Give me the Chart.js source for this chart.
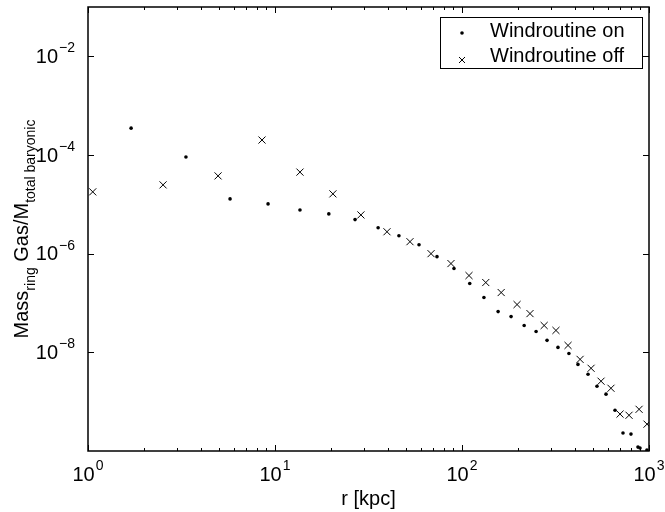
<!DOCTYPE html>
<html>
<head>
<meta charset="utf-8">
<script src="https://cdn.jsdelivr.net/npm/chart.js@4/dist/chart.umd.min.js"></script>
<style>
  html, body { margin: 0; padding: 0; background: #fff; }
  #wrap { width: 665px; height: 512px; position: relative; }
</style>
</head>
<body>
<div id="wrap"><canvas id="massChart"></canvas></div>
<script>
// radius [kpc] and mass fraction, wind routine on
const rOn = [1.70, 3.34, 5.75, 9.18, 13.6, 19.4, 26.8, 35.6, 46.0, 58.9, 73.5, 90.6, 110, 131, 156, 183, 215, 249, 285, 326, 373, 417, 472, 527, 589, 658, 726, 801, 873, 895, 975];
const massOn = [3.5e-4, 9.1e-5, 1.29e-5, 1.02e-5, 7.7e-6, 6.4e-6, 4.9e-6, 3.35e-6, 2.31e-6, 1.52e-6, 8.7e-7, 5.0e-7, 2.48e-7, 1.29e-7, 6.7e-8, 5.3e-8, 3.5e-8, 2.65e-8, 1.75e-8, 1.26e-8, 9.5e-9, 5.7e-9, 3.6e-9, 2.06e-9, 1.42e-9, 6.7e-10, 2.31e-10, 2.2e-10, 1.2e-10, 1.15e-10, 1.05e-10];

// wind routine off
const rOff = [1.06, 2.52, 4.96, 8.52, 13.6, 20.4, 28.8, 39.7, 52.7, 68.3, 87.3, 109, 134, 162, 197, 231, 275, 318, 369, 428, 490, 554, 626, 700, 782, 885, 976];
const massOff = [1.79e-5, 2.48e-5, 3.77e-5, 2.01e-4, 4.5e-5, 1.63e-5, 6.1e-6, 2.78e-6, 1.75e-6, 1.0e-6, 6.3e-7, 3.6e-7, 2.6e-7, 1.63e-7, 9.3e-8, 6.1e-8, 3.5e-8, 2.78e-8, 1.38e-8, 7.2e-9, 4.75e-9, 2.6e-9, 1.87e-9, 5.6e-10, 5.3e-10, 7.0e-10, 3.5e-10];

const xTicks = [1, 10, 100, 1000];
const yTicks = [1e-8, 1e-6, 1e-4, 1e-2];
const legendLabels = ['Windroutine on', 'Windroutine off'];

const FONT = '"Liberation Sans", Arial, sans-serif';
const BIG = '20px ' + FONT;
const SMALL = '14px ' + FONT;

function toPoints(xs, ys) {
    return xs.map((x, i) => ({ x: x, y: ys[i] }));
}

// "10" with a raised exponent
function powWidth(ctx, exp) {
    ctx.font = BIG;
    const w1 = ctx.measureText('10').width;
    ctx.font = SMALL;
    return w1 + 1 + ctx.measureText(exp).width;
}
function drawPow(ctx, exp, x, y) {
    ctx.textBaseline = 'middle';
    ctx.textAlign = 'left';
    ctx.font = BIG;
    ctx.fillText('10', x, y);
    const w1 = ctx.measureText('10').width;
    ctx.font = SMALL;
    ctx.fillText(exp, x + w1 + 1, y - 9);
}

const axesPlugin = {
    id: 'matlabAxes',
    afterDraw(chart) {
        const ctx = chart.ctx;
        const a = chart.chartArea;
        const xs = chart.scales.x;
        const ys = chart.scales.y;
        ctx.save();
        ctx.strokeStyle = '#000';
        ctx.fillStyle = '#000';

        // frame
        ctx.lineWidth = 1.5;
        ctx.strokeRect(a.left, a.top, a.right - a.left, a.bottom - a.top);

        // x ticks (major + log minors), inside on bottom and top
        ctx.lineWidth = 1;
        ctx.beginPath();
        for (let d = 0; d < xTicks.length; d++) {
            for (let m = 1; m <= 9; m++) {
                const v = xTicks[d] * m;
                if (v > xTicks[xTicks.length - 1]) break;
                const px = Math.round(xs.getPixelForValue(v)) + 0.5;
                const len = m === 1 ? 6 : 3;
                ctx.moveTo(px, a.bottom);
                ctx.lineTo(px, a.bottom - len);
                ctx.moveTo(px, a.top);
                ctx.lineTo(px, a.top + len);
            }
        }
        // y ticks, left and right
        yTicks.forEach(v => {
            const py = Math.round(ys.getPixelForValue(v)) + 0.5;
            ctx.moveTo(a.left, py);
            ctx.lineTo(a.left + 6, py);
            ctx.moveTo(a.right, py);
            ctx.lineTo(a.right - 6, py);
        });
        ctx.stroke();

        // tick labels
        xTicks.forEach(v => {
            const exp = String(Math.round(Math.log10(v)));
            const w = powWidth(ctx, exp);
            drawPow(ctx, exp, xs.getPixelForValue(v) - w / 2, a.bottom + 24);
        });
        yTicks.forEach(v => {
            const exp = '\u2212' + String(-Math.round(Math.log10(v)));
            const w = powWidth(ctx, exp);
            drawPow(ctx, exp, a.left - 13 - w, ys.getPixelForValue(v) + 1);
        });

        // x title
        ctx.font = BIG;
        ctx.textAlign = 'center';
        ctx.textBaseline = 'middle';
        ctx.fillText('r [kpc]', (a.left + a.right) / 2, 499);

        // y title with subscripts
        const parts = [
            { t: 'Mass', sub: false },
            { t: 'ring', sub: true },
            { t: ' Gas/M', sub: false },
            { t: 'total baryonic', sub: true }
        ];
        let total = 0;
        parts.forEach(p => {
            ctx.font = p.sub ? SMALL : BIG;
            p.w = ctx.measureText(p.t).width;
            total += p.w;
        });
        ctx.save();
        ctx.translate(28, (a.top + a.bottom) / 2);
        ctx.rotate(-Math.PI / 2);
        ctx.textAlign = 'left';
        ctx.textBaseline = 'alphabetic';
        let cx = -total / 2;
        parts.forEach(p => {
            ctx.font = p.sub ? SMALL : BIG;
            ctx.fillText(p.t, cx, p.sub ? 7 : 0);
            cx += p.w;
        });
        ctx.restore();

        // legend box
        const lx = 440, ly = 17, lw = 202, lh = 51;
        ctx.fillStyle = '#fff';
        ctx.fillRect(lx, ly, lw, lh);
        ctx.lineWidth = 1;
        ctx.strokeStyle = '#000';
        ctx.strokeRect(lx + 0.5, ly + 0.5, lw, lh);
        ctx.fillStyle = '#000';
        ctx.font = BIG;
        ctx.textAlign = 'left';
        ctx.textBaseline = 'middle';
        ctx.fillText(legendLabels[0], 490, 31);
        ctx.fillText(legendLabels[1], 490, 56);
        ctx.beginPath();
        ctx.arc(462, 33, 1.8, 0, Math.PI * 2);
        ctx.fill();
        ctx.beginPath();
        ctx.moveTo(459, 57); ctx.lineTo(465, 63);
        ctx.moveTo(465, 57); ctx.lineTo(459, 63);
        ctx.stroke();

        ctx.restore();
    }
};

const ctx = document.getElementById('massChart').getContext('2d');
const massChart = new Chart(ctx, {
    type: 'scatter',
    data: {
        datasets: [{
            label: legendLabels[0],
            data: toPoints(rOn, massOn),
            pointStyle: 'circle',
            pointRadius: 1.8,
            pointBackgroundColor: '#000',
            pointBorderWidth: 0
        }, {
            label: legendLabels[1],
            data: toPoints(rOff, massOff),
            pointStyle: 'crossRot',
            pointRadius: 5,
            pointBorderColor: '#000',
            pointBorderWidth: 1
        }]
    },
    options: {
        responsive: true,
        maintainAspectRatio: false,
        animation: false,
        layout: { padding: { left: 88, top: 7, right: 16, bottom: 61 } },
        plugins: { legend: { display: false }, tooltip: { enabled: false } },
        scales: {
            x: { type: 'logarithmic', min: 1, max: 1000, display: false },
            y: { type: 'logarithmic', min: 1e-10, max: 1e-1, display: false }
        }
    },
    plugins: [axesPlugin]
});
</script>
</body>
</html>
